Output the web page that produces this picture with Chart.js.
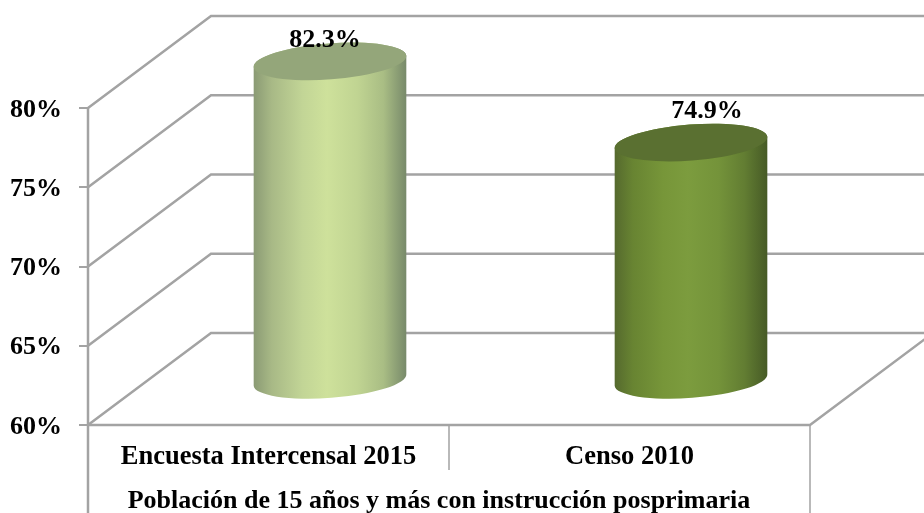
<!DOCTYPE html>
<html lang="es">
<head>
<meta charset="utf-8">
<title>Población de 15 años y más con instrucción posprimaria</title>
<script src="https://cdn.jsdelivr.net/npm/chart.js@4"></script>
<style>
    html, body { margin: 0; padding: 0; background: #fff; }
    #wrap { width: 924px; height: 513px; }
</style>
</head>
<body>
<div id="wrap"><canvas id="chart"></canvas></div>
<script>
// Chart data
var categories = ['Encuesta Intercensal 2015', 'Censo 2010'];
var seriesValues = [82.3, 74.9];
var tickLabels = ['60%', '65%', '70%', '75%', '80%'];
var tickValues = [60, 65, 70, 75, 80];
var xTitle = 'Población de 15 años y más con instrucción posprimaria';

// Look of the fake 3D box and the cylinders
var fontFamily = '"Liberation Serif", "Times New Roman", serif';
var lineColor = '#a3a3a3';
var depthX = 123, depthY = -92;
var cylinderStyles = [
    { stops: ['#8a9a74', '#a8b986', '#c2d596', '#cee19b', '#c0d492', '#a9bd84', '#77896a'], top: '#94a67a', labelDx: -5, labelDy: -14 },
    { stops: ['#55692e', '#688432', '#779639', '#7c9c3e', '#74933a', '#627d32', '#465a26'], top: '#5a7031', labelDx: 16, labelDy: -25 }
];

var box3d = {
    id: 'box3d',
    beforeDatasetsDraw: function(chart) {
        var ctx = chart.ctx, y = chart.scales.y, x = chart.scales.x;
        ctx.save();
        ctx.strokeStyle = lineColor;
        ctx.lineWidth = 2.5;
        // Diagonals and back wall lines
        tickValues.forEach(function(v) {
            var py = y.getPixelForValue(v);
            ctx.beginPath();
            ctx.moveTo(x.left, py);
            ctx.lineTo(x.left + depthX, py + depthY);
            ctx.lineTo(x.right + depthX, py + depthY);
            ctx.stroke();
        });
        // Floor
        ctx.beginPath();
        ctx.moveTo(x.left, y.bottom);
        ctx.lineTo(x.right, y.bottom);
        ctx.lineTo(x.right + depthX, y.bottom + depthY);
        ctx.stroke();
        // Left axis runs down through the labels, then the separators
        ctx.beginPath();
        ctx.moveTo(x.left, y.top);
        ctx.lineTo(x.left, chart.height);
        ctx.stroke();
        ctx.lineWidth = 1.5;
        ctx.beginPath();
        ctx.moveTo(x.right, y.bottom);
        ctx.lineTo(x.right, chart.height);
        var mid = (x.getPixelForValue(0) + x.getPixelForValue(1)) / 2;
        ctx.moveTo(mid, y.bottom);
        ctx.lineTo(mid, y.bottom + 45);
        ctx.stroke();
        ctx.restore();
    },
    afterDatasetsDraw: function(chart) {
        var ctx = chart.ctx, x = chart.scales.x;
        var rot = -0.075, ry = 18;
        chart.getDatasetMeta(0).data.forEach(function(bar, i) {
            var st = cylinderStyles[i];
            var cx = bar.x + depthX / 2, rx = bar.width / 2;
            var grad = ctx.createLinearGradient(cx - rx, 0, cx + rx, 0);
            var pos = [0, 0.12, 0.32, 0.48, 0.68, 0.85, 1];
            st.stops.forEach(function(c, k) { grad.addColorStop(pos[k], c); });
            ctx.save();
            ctx.beginPath();
            ctx.ellipse(cx, bar.base, rx, ry, rot, 0, Math.PI);
            ctx.ellipse(cx, bar.y, rx, ry, rot, Math.PI, 0);
            ctx.closePath();
            ctx.fillStyle = grad;
            ctx.fill();
            ctx.beginPath();
            ctx.ellipse(cx, bar.y, rx, ry, rot, 0, Math.PI * 2);
            ctx.fillStyle = st.top;
            ctx.fill();
            // Value label
            ctx.fillStyle = '#000';
            ctx.font = 'bold 26px ' + fontFamily;
            ctx.textAlign = 'center';
            ctx.textBaseline = 'alphabetic';
            ctx.fillText(seriesValues[i].toFixed(1) + '%', cx + st.labelDx, bar.y + st.labelDy);
            ctx.restore();
        });
        // Axis caption sits a little left of the axis centre, so no scale title here
        ctx.save();
        ctx.fillStyle = '#000';
        ctx.font = 'bold 26px ' + fontFamily;
        ctx.textAlign = 'center';
        ctx.textBaseline = 'alphabetic';
        ctx.fillText(xTitle, (x.left + x.right) / 2 - 10, 508);
        ctx.restore();
    }
};

new Chart(document.getElementById('chart').getContext('2d'), {
    type: 'bar',
    data: {
        labels: categories,
        datasets: [{
            data: seriesValues,
            yAxisID: 'y2',
            base: 53.26,
            backgroundColor: 'rgba(0,0,0,0)',
            barPercentage: 1,
            categoryPercentage: 0.424
        }]
    },
    plugins: [box3d],
    options: {
        responsive: true,
        maintainAspectRatio: false,
        animation: false,
        layout: { padding: { top: 108, right: 114, left: 0, bottom: 0 } },
        plugins: { legend: { display: false }, tooltip: { enabled: false } },
        scales: {
            x: {
                grid: { display: false },
                border: { display: false },
                afterFit: function(scale) { scale.height = 88; },
                ticks: {
                    color: '#000',
                    padding: 8,
                    maxRotation: 0,
                    autoSkip: false,
                    font: { family: fontFamily, weight: 'bold', size: 26.5 }
                }
            },
            y: {
                min: 60,
                max: 80,
                afterFit: function(scale) { scale.width = 88; },
                afterBuildTicks: function(scale) {
                    scale.ticks = tickValues.map(function(v) { return { value: v }; });
                },
                grid: { drawOnChartArea: false, color: lineColor, lineWidth: 2, tickLength: 9 },
                border: { display: false },
                ticks: {
                    color: '#000',
                    padding: 17,
                    labelOffset: 2,
                    callback: function(v) { return tickLabels[tickValues.indexOf(v)]; },
                    font: { family: fontFamily, weight: 'bold', size: 26 }
                }
            },
            // The cylinders sit mid depth and do not follow the printed axis
            y2: { display: false, min: 49.15, max: 78.05 }
        }
    }
});
</script>
</body>
</html>
